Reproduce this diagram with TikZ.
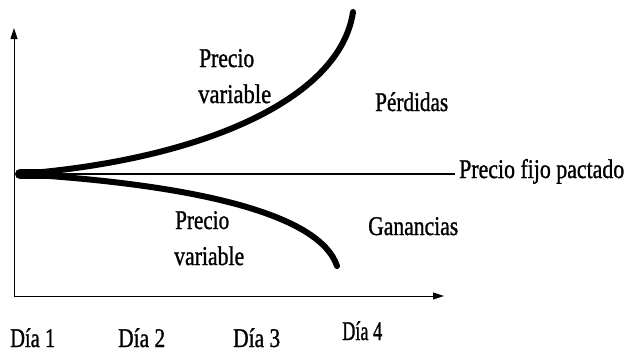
\documentclass[tikz,border=0pt]{standalone}
\usepackage{fontspec}
\setmainfont{Liberation Serif}
\newfontfamily\lblfont[BoldFont={Liberation Serif}, BoldFeatures={FakeBold=1.2}]{Liberation Serif}
\usetikzlibrary{arrows.meta}
\newcommand{\wid}[2]{\resizebox{#1pt}{\height}{#2}}
\begin{document}
\begin{tikzpicture}[x=1pt,y=-1pt,
  lbl/.style={inner sep=0pt, anchor=base west, font=\lblfont\bfseries\fontsize{27}{30}\selectfont},
  axis/.style={line width=1pt, -{Triangle[length=11pt,width=7pt]}},
  curve/.style={line width=6pt, line cap=round},
]
\useasboundingbox (0,0) rectangle (628,354);
\coordinate (O) at (14,296);
\coordinate (Ytop) at (14,28);
\coordinate (Xend) at (444,296);
\coordinate (S) at (20,174);
\coordinate (Fend) at (455,174);
\coordinate (U) at (353,12);
\coordinate (L) at (337,266);
\draw[axis] (O) -- (Ytop);
\draw[axis] (O) -- (Xend);
\draw[line width=1.2pt] (S) -- (Fend);
\draw[curve] (S) .. controls (200,160) and (340,100) .. (U);
\draw[curve] (S) .. controls (200,185) and (320,215) .. (L);
\draw[line width=10pt, line cap=round] (S) -- (50,174);
\node[lbl] (fijo) at (459,178) {\wid{165}{Precio fijo pactado}};
\node[lbl] (pv1a) at (199,67) {\wid{55}{Precio}};
\node[lbl] (pv1b) at (198,103) {\wid{73}{variable}};
\node[lbl] (pv2a) at (175,229) {\wid{54}{Precio}};
\node[lbl] (pv2b) at (174,265) {\wid{70}{variable}};
\node[lbl] (perd) at (375,111) {\wid{73}{Pérdidas}};
\node[lbl] (gan) at (368,235) {\wid{90}{Ganancias}};
\node[lbl] (d1) at (10,347) {\wid{45}{Día 1}};
\node[lbl] (d2) at (118,347) {\wid{47}{Día 2}};
\node[lbl] (d3) at (233,347) {\wid{47}{Día 3}};
\node[lbl] (d4) at (342,340) {\wid{40}{Día 4}};
\end{tikzpicture}
\end{document}
